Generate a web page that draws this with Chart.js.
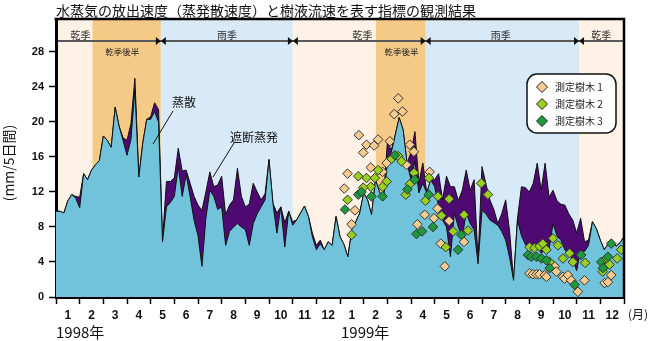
<!DOCTYPE html>
<html>
<head>
<meta charset="utf-8">
<script src="https://cdn.jsdelivr.net/npm/chart.js@4/dist/chart.umd.min.js"></script>
<style>
  html, body { margin: 0; padding: 0; background: #fff; }
  #chart { display: block; }
</style>
</head>
<body>
<canvas id="chart" width="650" height="341"></canvas>
<script>
const titleText = '水蒸気の放出速度（蒸発散速度）と樹液流速を表す指標の観測結果';
const yTitle = '(mm/5日間)';
const monthNames = ['1', '2', '3', '4', '5', '6', '7', '8', '9', '10', '11', '12'];
const yearNames = ['1998年', '1999年'];
const yTicks = [0, 4, 8, 12, 16, 20, 24, 28];

// 5-day values (mm/5日間), Jan 1998 - Dec 1999, 6 per month
const transpiration = [
  9.8, 9.8, 9.6, 11.0, 11.7, 11.3, 10.2, 14.1, 13.4, 14.5,
  15.1, 15.6, 18.4, 17.9, 17.1, 21.7, 19.5, 17.9, 16.2, 18.0,
  23.7, 13.7, 17.6, 20.3, 20.3, 21.2, 20.0, 6.3, 10.3, 10.8,
  11.5, 14.9, 11.5, 14.0, 11.5, 8.8, 7.0, 3.5, 9.0, 12.2,
  11.5, 10.0, 10.3, 5.9, 7.5, 8.0, 8.4, 8.0, 7.7, 5.9,
  8.4, 9.5, 10.3, 11.1, 15.7, 10.7, 7.3, 10.3, 5.7, 9.8,
  8.2, 8.8, 9.6, 10.4, 9.2, 6.9, 5.4, 6.1, 5.4, 6.3,
  5.9, 9.2, 6.9, 6.0, 4.6, 7.7, 8.6, 9.6, 11.9, 11.1,
  9.4, 13.4, 12.0, 11.1, 15.3, 16.5, 18.5, 20.5, 19.1, 15.3,
  13.4, 15.5, 11.9, 13.0, 11.9, 13.4, 12.6, 10.3, 8.8, 8.0,
  4.6, 9.6, 8.0, 6.9, 9.6, 8.4, 7.7, 3.8, 9.9, 9.5,
  8.8, 8.5, 8.2, 7.5, 6.5, 4.5, 1.9, 8.8, 7.0, 6.0,
  5.4, 5.5, 5.8, 5.0, 5.4, 5.4, 8.4, 7.0, 6.5, 5.4,
  4.8, 4.4, 3.0, 5.4, 5.2, 5.9, 8.6, 7.8, 6.5, 5.4,
  6.1, 6.5, 5.8, 6.2, 6.9
];
// transpiration + interception evaporation
const evapoTotal = [
  9.8, 9.8, 9.6, 11.0, 11.7, 11.5, 11.4, 14.1, 13.4, 14.5,
  15.1, 15.6, 18.4, 17.9, 17.1, 21.7, 19.5, 18.2, 17.9, 19.8,
  25.0, 13.7, 17.6, 20.3, 20.6, 22.2, 21.4, 6.5, 13.2, 13.2,
  13.6, 17.0, 14.4, 14.5, 13.0, 11.5, 10.5, 9.9, 12.0, 14.3,
  12.6, 12.8, 13.8, 9.4, 10.5, 11.1, 14.7, 11.5, 10.3, 10.6,
  13.0, 12.0, 11.1, 11.8, 15.7, 10.7, 9.6, 10.3, 8.5, 9.8,
  8.6, 8.8, 9.6, 10.4, 9.2, 7.3, 5.9, 6.5, 5.4, 6.3,
  5.9, 9.2, 6.9, 6.0, 4.6, 7.7, 8.6, 9.6, 11.9, 11.1,
  9.4, 13.4, 12.0, 11.1, 17.6, 16.8, 18.5, 20.5, 19.1, 15.3,
  16.5, 18.9, 13.0, 15.3, 11.9, 13.4, 13.4, 14.1, 11.1, 13.8,
  12.6, 12.6, 11.0, 12.2, 14.5, 12.2, 13.4, 4.2, 14.9, 12.9,
  11.1, 10.0, 8.4, 9.5, 11.1, 7.5, 1.9, 9.0, 12.6, 12.5,
  12.0, 13.0, 15.3, 12.2, 15.3, 11.4, 12.2, 11.0, 10.6, 10.5,
  9.5, 8.8, 7.3, 9.0, 6.3, 6.5, 8.6, 7.8, 6.5, 5.4,
  6.1, 6.5, 5.8, 6.2, 6.9
];

// sap flow index per tree: month position (0 = 1 Jan 1998) and value
const tree1Month = [12.80, 13.12, 12.98, 13.61, 13.44, 14.11, 14.46, 14.29, 14.64, 14.95,
  15.12, 12.32, 12.18, 13.30, 13.80, 13.97, 14.81, 15.79, 12.63, 12.49,
  15.27, 15.58, 16.12, 15.97, 16.61, 17.24, 16.26, 16.43, 20.01, 20.15,
  20.30, 20.43, 20.65, 20.72, 21.07, 21.14, 21.42, 21.49, 21.63, 21.77,
  22.05, 22.33, 23.18, 23.32, 23.46];
const tree1Value = [18.5, 17.4, 16.5, 18.0, 17.3, 17.8, 22.7, 20.9, 21.2, 17.4,
  16.6, 14.1, 12.4, 14.8, 14.3, 15.3, 15.1, 14.3, 9.9, 8.3,
  8.3, 9.4, 10.1, 9.0, 8.7, 6.3, 6.1, 3.5, 2.7, 2.6,
  2.6, 2.6, 2.5, 2.3, 3.5, 2.9, 2.3, 2.1, 2.5, 1.9,
  0.6, 1.9, 1.6, 1.7, 2.5];
const tree2Month = [12.32, 12.49, 12.77, 13.12, 13.47, 13.30, 12.98, 13.97, 13.80, 13.61,
  14.18, 14.46, 14.60, 14.78, 14.95, 15.13, 15.76, 15.61, 16.14, 16.61,
  16.29, 16.78, 17.24, 17.41, 16.47, 17.97, 18.25, 20.01, 20.22, 20.43,
  20.57, 20.72, 21.00, 21.21, 21.42, 21.70, 21.84, 22.19, 22.36, 20.86,
  23.18, 23.39, 23.10, 23.88, 23.71];
const tree2Value = [11.1, 7.1, 13.8, 13.6, 13.6, 12.6, 12.5, 13.2, 12.6, 14.5,
  15.8, 16.1, 15.5, 11.7, 12.9, 14.2, 13.6, 11.0, 11.5, 11.2,
  9.3, 7.5, 9.4, 7.6, 5.7, 13.0, 11.7, 5.7, 5.6, 5.8,
  6.1, 5.4, 6.7, 5.9, 4.4, 5.0, 4.0, 4.8, 3.9, 4.0,
  4.2, 3.7, 2.9, 5.4, 4.4];
const tree3Month = [12.21, 12.77, 13.33, 13.80, 12.91, 14.32, 14.85, 15.16, 15.23, 15.47,
  15.93, 15.75, 16.99, 17.13, 19.94, 20.08, 20.30, 20.51, 20.72, 20.86,
  22.19, 21.91, 23.04, 23.32, 23.46, 23.11];
const tree3Value = [10.0, 11.7, 11.5, 11.5, 12.0, 16.2, 12.3, 13.4, 7.2, 7.5,
  8.0, 11.7, 5.4, 7.1, 4.8, 4.6, 4.6, 4.4, 4.2, 3.3,
  4.8, 1.4, 4.0, 4.6, 6.1, 3.3];

// seasons (month positions)
const seasonBounds = [0, 1.54, 4.43, 10.01, 13.52, 15.62, 22.1, 24];
const seasonKinds = ['dry', 'late', 'wet', 'dry', 'late', 'wet', 'dry'];
const seasonMarks = [4.43, 10.01, 15.62, 22.1];
const seasonLabels = ['乾季', '雨季', '乾季', '雨季', '乾季'];
const seasonLabelAt = [1.03, 7.23, 12.95, 18.79, 23.04];
const lateLabel = '乾季後半';
const lateLabelAt = [2.8, 14.6];
const seasonLineLevel = 29.26;

const bandColors = { dry: '#FEF1E5', late: '#F5C986', wet: '#D8EAF8' };
const jp = '"Noto Sans CJK JP", "Noto Sans", sans-serif';

const decor = {
  id: 'decor',
  beforeDraw(chart) {
    const { ctx, chartArea: a, scales: { x, y } } = chart;
    ctx.save();
    seasonKinds.forEach((k, i) => {
      const x0 = x.getPixelForValue(seasonBounds[i]);
      const x1 = x.getPixelForValue(seasonBounds[i + 1]);
      ctx.fillStyle = bandColors[k];
      ctx.fillRect(x0, a.top, x1 - x0, a.bottom - a.top);
    });
    // season line with markers
    const ly = y.getPixelForValue(seasonLineLevel);
    ctx.strokeStyle = '#5a5a5a';
    ctx.lineWidth = 2;
    ctx.beginPath();
    ctx.moveTo(a.left, ly);
    ctx.lineTo(a.right, ly);
    ctx.stroke();
    ctx.fillStyle = '#111';
    seasonMarks.forEach(m => {
      const mx = x.getPixelForValue(m);
      ctx.beginPath();
      ctx.moveTo(mx, ly); ctx.lineTo(mx - 5, ly - 4); ctx.lineTo(mx - 5, ly + 4); ctx.closePath();
      ctx.moveTo(mx, ly); ctx.lineTo(mx + 5, ly - 4); ctx.lineTo(mx + 5, ly + 4); ctx.closePath();
      ctx.fill();
    });
    ctx.fillStyle = '#333';
    ctx.textAlign = 'center';
    ctx.textBaseline = 'middle';
    ctx.font = '10px ' + jp;
    seasonLabels.forEach((t, i) => ctx.fillText(t, x.getPixelForValue(seasonLabelAt[i]), ly - 6));
    ctx.font = '8.5px ' + jp;
    ctx.fillStyle = '#222';
    lateLabelAt.forEach(m => ctx.fillText(lateLabel, x.getPixelForValue(m), ly + 11));
    ctx.restore();
  },
  afterDraw(chart) {
    const { ctx, chartArea: a } = chart;
    ctx.save();
    // frame top and right
    ctx.strokeStyle = '#000';
    ctx.lineWidth = 2.5;
    ctx.beginPath();
    ctx.moveTo(a.left - 1.5, a.top);
    ctx.lineTo(a.right, a.top);
    ctx.lineTo(a.right, a.bottom + 1.5);
    ctx.stroke();

    // callouts
    ctx.lineWidth = 1;
    ctx.strokeStyle = '#111';
    ctx.beginPath();
    ctx.moveTo(173, 111); ctx.lineTo(153, 144);
    ctx.moveTo(234, 143); ctx.lineTo(213, 177);
    ctx.stroke();
    ctx.fillStyle = '#111';
    ctx.font = '12px ' + jp;
    ctx.textAlign = 'center';
    ctx.textBaseline = 'middle';
    ctx.fillText('蒸散', 184, 102);
    ctx.fillText('遮断蒸発', 254, 137);

    // legend
    const lx = 527, ly = 74, lw = 89, lh = 59;
    ctx.beginPath();
    ctx.roundRect(lx, ly, lw, lh, 10);
    ctx.fillStyle = '#fff';
    ctx.fill();
    ctx.lineWidth = 1.5;
    ctx.strokeStyle = '#111';
    ctx.stroke();
    ctx.font = '10px ' + jp;
    ctx.textAlign = 'left';
    chart.data.datasets.filter(d => d.type === 'scatter').forEach((d, i) => {
      const cy = ly + 13 + i * 17;
      const cx = lx + 15;
      ctx.beginPath();
      ctx.moveTo(cx, cy - 5.5); ctx.lineTo(cx + 5.5, cy); ctx.lineTo(cx, cy + 5.5); ctx.lineTo(cx - 5.5, cy);
      ctx.closePath();
      ctx.fillStyle = d.backgroundColor;
      ctx.fill();
      ctx.lineWidth = 1;
      ctx.strokeStyle = '#222';
      ctx.stroke();
      ctx.fillStyle = '#222';
      ctx.fillText(d.label, lx + 28, cy);
    });

    // title, axis texts
    ctx.fillStyle = '#111';
    ctx.font = '14px ' + jp;
    ctx.textAlign = 'left';
    ctx.fillText(titleText, 56, 11);
    ctx.font = '15px ' + jp;
    ctx.fillText(yearNames[0], 56, 332);
    ctx.fillText(yearNames[1], 341, 332);
    ctx.font = '12px ' + jp;
    ctx.textAlign = 'center';
    ctx.fillText('(月)', 638, 314);
    ctx.translate(9, 163);
    ctx.rotate(-Math.PI / 2);
    ctx.font = '14px ' + jp;
    ctx.fillText(yTitle, 0, 0);
    ctx.restore();
  }
};

const pts = (xs, ys) => xs.map((m, i) => ({ x: m, y: ys[i] }));
const diamond = (label, color, order) => ({
  type: 'scatter', label, order,
  data: null,
  pointStyle: 'rectRot', pointRadius: 4.8,
  backgroundColor: color, borderColor: '#333', borderWidth: 1
});

const tree1 = diamond('測定樹木 1', '#F8CB8E', -1);
tree1.data = pts(tree1Month, tree1Value);
const tree2 = diamond('測定樹木 2', '#98D020', -2);
tree2.data = pts(tree2Month, tree2Value);
const tree3 = diamond('測定樹木 3', '#1E9A3C', -3);
tree3.data = pts(tree3Month, tree3Value);

new Chart(document.getElementById('chart'), {
  type: 'line',
  data: {
    datasets: [
      {
        label: '遮断蒸発', order: 2,
        data: evapoTotal.map((v, i) => ({ x: i / 6, y: v })),
        fill: 'origin', backgroundColor: '#4E0A72',
        borderColor: '#111', borderWidth: 1, pointRadius: 0, tension: 0
      },
      {
        label: '蒸散', order: 1,
        data: transpiration.map((v, i) => ({ x: i / 6, y: v })),
        fill: 'origin', backgroundColor: '#70C3DB',
        borderColor: '#111', borderWidth: 1, pointRadius: 0, tension: 0
      },
      tree1, tree2, tree3
    ]
  },
  options: {
    responsive: false,
    animation: false,
    devicePixelRatio: 1,
    layout: { padding: { top: 19, right: 26, left: 0, bottom: 0 } },
    plugins: { legend: { display: false }, tooltip: { enabled: false } },
    scales: {
      x: {
        type: 'linear', min: 0, max: 24,
        afterFit: s => { s.height = 44; },
        afterBuildTicks: s => { s.ticks = Array.from({ length: 25 }, (_, i) => ({ value: i })); },
        grid: { drawOnChartArea: false, tickLength: 7, tickColor: '#000', tickWidth: 1.5 },
        border: { color: '#000', width: 3 },
        ticks: {
          autoSkip: false, maxRotation: 0, labelOffset: 11.85, padding: 4, color: '#111',
          font: { family: '"Liberation Sans", Arial, sans-serif', size: 12, weight: 'bold' },
          callback: v => v < 24 ? monthNames[v % 12] : ''
        }
      },
      y: {
        min: 0, max: 31.77,
        afterFit: s => { s.width = 56; },
        afterBuildTicks: s => { s.ticks = yTicks.map(v => ({ value: v })); },
        grid: { drawOnChartArea: false, tickLength: 7, tickColor: '#000', tickWidth: 1.5 },
        border: { color: '#000', width: 3 },
        ticks: {
          padding: 5, color: '#111',
          font: { family: '"Liberation Sans", Arial, sans-serif', size: 11, weight: 'bold' }
        }
      }
    }
  },
  plugins: [decor]
});
</script>
</body>
</html>
